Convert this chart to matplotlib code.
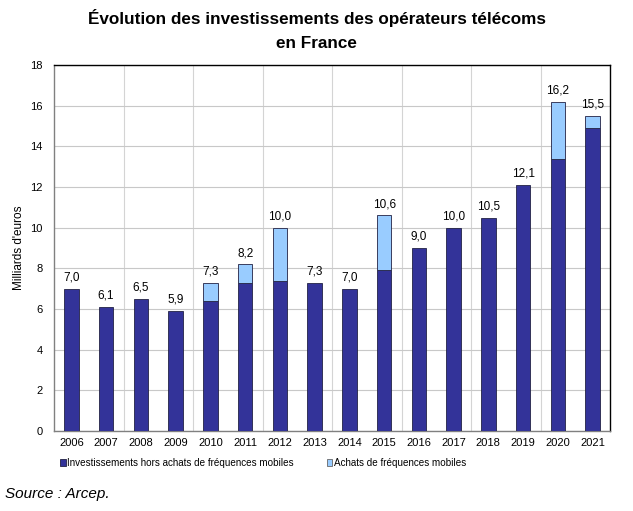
import numpy as np
import matplotlib
matplotlib.use("Agg")
from matplotlib import pyplot as plt

plt.rcParams['font.family'] = ['Liberation Sans', 'DejaVu Sans']

# data (milliards d'euros)
years = [str(y) for y in range(2006, 2022)]
hors_frequences = [7.0, 6.1, 6.5, 5.9, 6.4, 7.3, 7.4, 7.3, 7.0, 7.9, 9.0, 10.0, 10.5, 12.1, 13.4, 14.9]
frequences = [0.0, 0.0, 0.0, 0.0, 0.9, 0.9, 2.6, 0.0, 0.0, 2.7, 0.0, 0.0, 0.0, 0.0, 2.8, 0.6]
totals = ["7,0", "6,1", "6,5", "5,9", "7,3", "8,2", "10,0", "7,3", "7,0", "10,6", "9,0", "10,0", "10,5", "12,1", "16,2", "15,5"]

dark = "#333399"
light = "#99CCFF"

fig = plt.figure(figsize=(6.33, 5.11), dpi=100)
ax = fig.add_axes([54/633, 1 - 431/511, (610 - 54)/633, (431 - 65)/511])

x = np.arange(len(years))
w = 0.42
ax.bar(x, hors_frequences, w, color=dark, edgecolor="#222244", linewidth=0.6,
       label="Investissements hors achats de fréquences mobiles", zorder=3)
top = np.array(hors_frequences) + np.array(frequences)
mask = np.array(frequences) > 0
ax.bar(x[mask], np.array(frequences)[mask], w, bottom=np.array(hors_frequences)[mask],
       color=light, edgecolor="#222244", linewidth=0.6, zorder=3)
# empty handle for legend (light series)
ax.bar([0], [0], w, color=light, edgecolor="#666666", linewidth=0.6,
       label="Achats de fréquences mobiles")

for xi, t, lab in zip(x, top, totals):
    ax.text(xi, t + 0.25, lab, ha="center", va="bottom", fontsize=8.5)

ax.set_xlim(-0.5, len(years) - 0.5)
ax.set_ylim(0, 18)
ax.set_yticks(np.arange(0, 19, 2))
ax.set_xticks(x)
ax.set_xticklabels(years)
ax.tick_params(axis="both", length=0, labelsize=8)
ax.tick_params(axis="y", pad=8)
ax.tick_params(axis="x", pad=5)
ax.set_ylabel("Milliards d'euros", fontsize=8.5, labelpad=4)

# grid: horizontal every 2, vertical every 2 categories
ax.yaxis.grid(True, color="#c8c8c8", linewidth=0.8, zorder=0)
for b in np.arange(1.5, len(years) - 1, 2):
    ax.axvline(b, color="#d4d4d4", linewidth=0.8, zorder=0)

for s in ["top", "right"]:
    ax.spines[s].set_color("black")
    ax.spines[s].set_linewidth(1.0)
for s in ["left", "bottom"]:
    ax.spines[s].set_color("#808080")
    ax.spines[s].set_linewidth(1.0)

fig.text(0.5, 1 - 30/511, "Évolution des investissements des opérateurs télécoms\nen France",
         ha="center", va="center", fontsize=12.3, fontweight="bold", linespacing=1.75)

leg = fig.legend(loc="center left", bbox_to_anchor=(60/633, 1 - 463/511), ncol=2, frameon=False,
                 fontsize=7.1, handlelength=0.6, handleheight=0.6, handletextpad=0.15,
                 columnspacing=3.3, borderaxespad=0, borderpad=0)

fig.text(5/633, 1 - 494/511, "Source : Arcep.", ha="left", va="center",
         fontsize=11, style="italic")

fig.savefig("out.png", dpi=100)
